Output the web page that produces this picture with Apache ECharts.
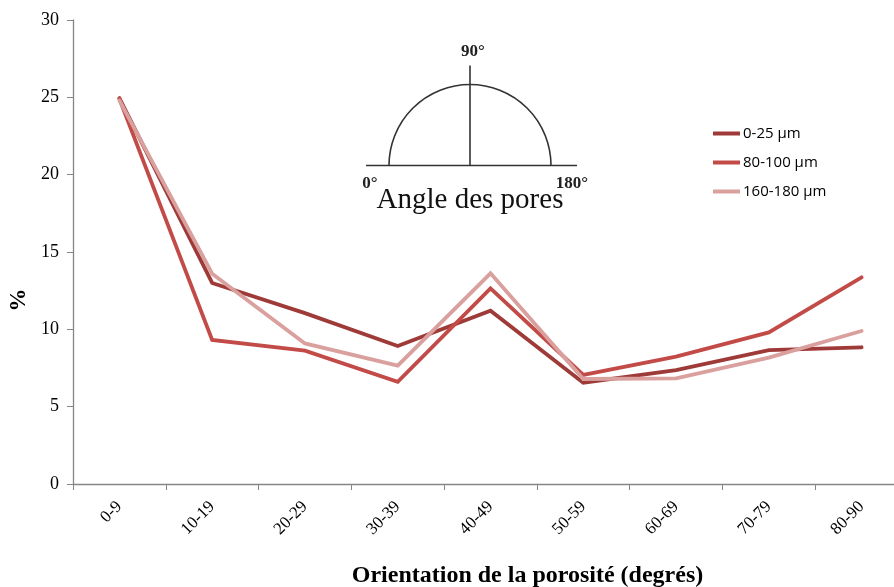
<!DOCTYPE html>
<html>
<head>
<meta charset="utf-8">
<script src="https://cdn.jsdelivr.net/npm/echarts@6/dist/echarts.min.js"></script>
<style>
  html, body { margin: 0; padding: 0; background: #fff; }
  #chart { width: 894px; height: 587px; }
</style>
</head>
<body>
<div id="chart"></div>
<script>
// Orientation classes (degrees)
const categories = ['0-9', '10-19', '20-29', '30-39', '40-49', '50-59', '60-69', '70-79', '80-90'];

// Percentage of pores per orientation class, by pore size
const pores0to25 = [24.95, 13.0, 11.05, 8.92, 11.2, 6.55, 7.37, 8.66, 8.84];
const pores80to100 = [24.9, 9.31, 8.62, 6.61, 12.65, 7.05, 8.23, 9.8, 13.36];
const pores160to180 = [24.8, 13.6, 9.09, 7.65, 13.62, 6.79, 6.83, 8.17, 9.89];

const seriesNames = ['0-25 µm', '80-100 µm', '160-180 µm'];
const yTicks = { min: 0, max: 30, interval: 5 };

const chart = echarts.init(document.getElementById('chart'));
const serif = '"Liberation Serif", "Times New Roman", serif';
const axisGrey = '#868686';

function lineSeries(name, data, color) {
  return {
    name: name,
    type: 'line',
    data: data,
    symbol: 'none',
    smooth: false,
    lineStyle: { color: color, width: 3.8, cap: 'round', join: 'miter' },
    itemStyle: { color: color }
  };
}

// Inset sketch: pore angle half-circle
const cx = 470, cy = 165.5, r = 81;

chart.setOption({
  animation: false,
  backgroundColor: '#fff',
  grid: { left: 73, top: 20, width: 835, bottom: 103, containLabel: false, outerBoundsMode: 'none' },
  legend: {
    orient: 'vertical',
    left: 713,
    top: 125,
    padding: 0,
    icon: 'rect',
    itemWidth: 27,
    itemHeight: 4,
    itemGap: 12,
    textStyle: { fontFamily: '"Open Sans", "Liberation Sans", sans-serif', fontSize: 15, lineHeight: 17, color: '#000', padding: [0, 0, 0, -2] },
    data: seriesNames
  },
  xAxis: {
    type: 'category',
    data: categories,
    boundaryGap: true,
    axisLine: { lineStyle: { color: axisGrey, width: 1.3 } },
    axisTick: { show: true, inside: false, length: 6, lineStyle: { color: axisGrey } },
    axisLabel: {
      rotate: 45,
      margin: 20,
      fontFamily: serif,
      fontSize: 17,
      color: '#000',
      interval: 0
    },
    name: 'Orientation de la porosité (degrés)',
    nameLocation: 'middle',
    nameGap: 80,
    nameTextStyle: { fontFamily: serif, fontSize: 24, fontWeight: 'bold', color: '#000', align: 'center', padding: [0, 0, 0, 74] }
  },
  yAxis: {
    type: 'value',
    min: yTicks.min,
    max: yTicks.max,
    interval: yTicks.interval,
    splitLine: { show: false },
    axisLine: { show: true, lineStyle: { color: axisGrey, width: 1.3 } },
    axisTick: { show: true, length: 6, lineStyle: { color: axisGrey } },
    axisLabel: { fontFamily: serif, fontSize: 18, color: '#000', margin: 14 },
    name: '%',
    nameLocation: 'middle',
    nameGap: 40,
    nameRotate: 90,
    nameTextStyle: { fontFamily: serif, fontSize: 23, fontWeight: 'bold', color: '#000', padding: [0, 96, 0, 0] }
  },
  series: [
    lineSeries(seriesNames[0], pores0to25, '#9E3B39'),
    lineSeries(seriesNames[1], pores80to100, '#C24B48'),
    lineSeries(seriesNames[2], pores160to180, '#D9A09E')
  ],
  graphic: [
    {
      type: 'line', silent: true,
      shape: { x1: 366, y1: cy, x2: 577, y2: cy },
      style: { stroke: '#333', lineWidth: 1.6 }
    },
    {
      type: 'arc', silent: true,
      shape: { cx: cx, cy: cy, r: r, startAngle: Math.PI, endAngle: 2 * Math.PI },
      style: { stroke: '#333', lineWidth: 1.6, fill: null }
    },
    {
      type: 'line', silent: true,
      shape: { x1: cx, y1: 65.5, x2: cx, y2: cy },
      style: { stroke: '#333', lineWidth: 1.6 }
    },
    {
      type: 'text', silent: true, x: 473, y: 52,
      style: { text: '90°', font: 'bold 17px ' + serif, fill: '#222', align: 'center', verticalAlign: 'middle' }
    },
    {
      type: 'text', silent: true, x: 370, y: 184,
      style: { text: '0°', font: 'bold 17px ' + serif, fill: '#222', align: 'center', verticalAlign: 'middle' }
    },
    {
      type: 'text', silent: true, x: 572, y: 184,
      style: { text: '180°', font: 'bold 17px ' + serif, fill: '#222', align: 'center', verticalAlign: 'middle' }
    },
    {
      type: 'text', silent: true, x: 470, y: 200,
      style: { text: 'Angle des pores', font: '29px ' + serif, fill: '#111', align: 'center', verticalAlign: 'middle' }
    }
  ]
});
</script>
</body>
</html>
